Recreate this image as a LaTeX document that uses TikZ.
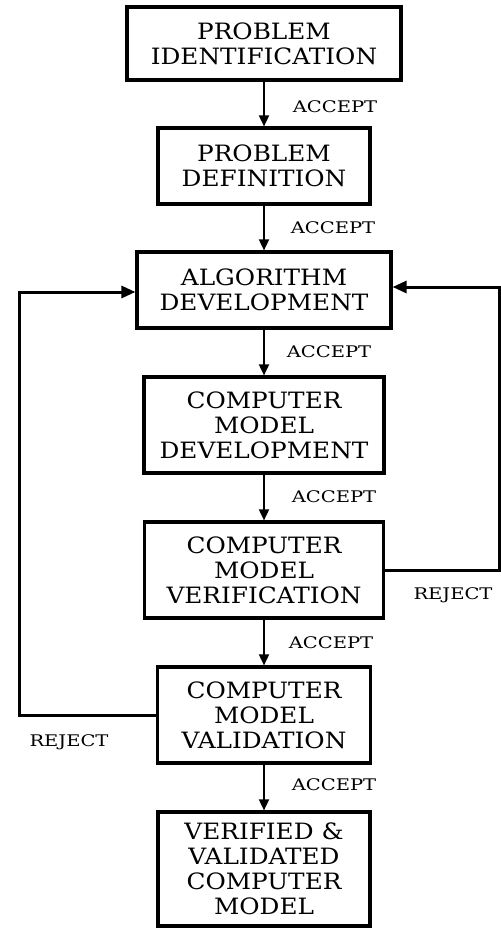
\documentclass[tikz,border=0pt]{standalone}
\usepackage{fontspec}
\setmainfont{DejaVu Serif}
\newfontfamily\boxfont{DejaVu Serif}[FakeStretch=1.1]
\newfontfamily\labelfont{DejaVu Serif}[FakeStretch=1.22]
\usetikzlibrary{arrows.meta}

\begin{document}
\begin{tikzpicture}[x=1pt,y=-1pt,
  box/.style={draw, line width=3.2pt, inner sep=0pt, align=center,
    font=\boxfont\fontsize{22.5}{25}\selectfont},
  lbl/.style={inner sep=0pt, font=\labelfont\fontsize{16}{18}\selectfont},
  flow/.style={line width=1.8pt, -{Triangle[length=11pt,width=10pt]}},
  loop/.style={line width=3pt, -{Triangle[length=14pt,width=12pt]}}]
\useasboundingbox (0,0) rectangle (501,930);
\fill[white] (0,0) rectangle (501,930);

% process boxes
\node[box, minimum width=274pt, minimum height=73pt] (ident) at (264,43.5) {PROBLEM\\IDENTIFICATION};
\node[box, minimum width=212pt, minimum height=76pt] (defn) at (264,166) {PROBLEM\\DEFINITION};
\node[box, minimum width=254pt, minimum height=76pt] (algo) at (264,290) {ALGORITHM\\DEVELOPMENT};
\node[box, minimum width=240pt, minimum height=96pt] (cmdev) at (264,425) {COMPUTER\\MODEL\\DEVELOPMENT};
\node[box, minimum width=239pt, minimum height=96pt] (verif) at (264,570) {COMPUTER\\MODEL\\VERIFICATION};
\node[box, minimum width=213pt, minimum height=96pt] (valid) at (264,715) {COMPUTER\\MODEL\\VALIDATION};
\node[box, minimum width=212pt, minimum height=114pt] (final) at (264,869) {VERIFIED \&\\VALIDATED\\COMPUTER\\MODEL};

% accept path
\draw[flow] (ident) -- (defn);
\draw[flow] (defn) -- (algo);
\draw[flow] (algo) -- (cmdev);
\draw[flow] (cmdev) -- (verif);
\draw[flow] (verif) -- (valid);
\draw[flow] (valid) -- (final);

\node[lbl] (a1) at (335,107) {ACCEPT};
\node[lbl] (a2) at (333,228) {ACCEPT};
\node[lbl] (a3) at (329,352) {ACCEPT};
\node[lbl] (a4) at (334,497) {ACCEPT};
\node[lbl] (a5) at (331,643) {ACCEPT};
\node[lbl] (a6) at (334,785) {ACCEPT};

% reject loops back to algorithm development
\coordinate (rbot) at (499,570);
\coordinate (rtop) at (499,287);
\draw[loop] (verif.east) -- (rbot) -- (rtop) -- (rtop -| algo.east);

\coordinate (lbot) at (19,715);
\coordinate (ltop) at (19,292);
\draw[loop] (valid.west) -- (lbot) -- (ltop) -- (ltop -| algo.west);

\node[lbl] (r1) at (453,595) {REJECT};
\node[lbl] (r2) at (69,742) {REJECT};
\end{tikzpicture}
\end{document}
